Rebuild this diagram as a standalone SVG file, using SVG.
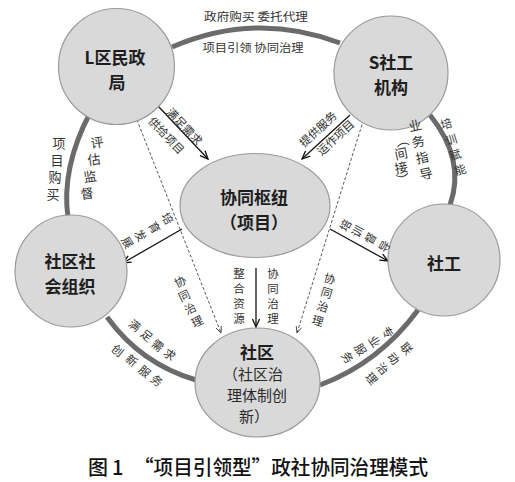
<svg xmlns="http://www.w3.org/2000/svg" width="515" height="482" viewBox="0 0 515 482">
<style>
.node{fill:#d9d9d9;stroke:#9a9a9a;stroke-width:1.2}
.ring{fill:none;stroke:#6b6b6b;stroke-width:5;stroke-linecap:butt}
.nt{font-family:"Noto Sans CJK SC","Liberation Sans",sans-serif;font-size:17px;font-weight:bold;fill:#1e1e1e;text-anchor:middle;dominant-baseline:central}
.nr{font-family:"Noto Sans CJK SC","Liberation Sans",sans-serif;font-size:15px;fill:#2a2a2a;text-anchor:middle;dominant-baseline:central}
.lb{font-family:"Noto Sans CJK SC","Liberation Sans",sans-serif;font-size:11.5px;fill:#333;text-anchor:middle;dominant-baseline:central}
.lv{font-family:"Noto Sans CJK SC","Liberation Sans",sans-serif;font-size:13px;fill:#333;text-anchor:middle;dominant-baseline:central}
.solid{fill:none;stroke:#151515;stroke-width:1.3}
.dash{fill:none;stroke:#444;stroke-width:0.9;stroke-dasharray:3 2}
.cap{font-family:"Noto Sans CJK SC","Liberation Sans",sans-serif;font-size:20px;font-weight:500;fill:#111}
</style>
<defs>
<marker id="arr" viewBox="0 0 10 10" refX="9" refY="5" markerWidth="10" markerHeight="10" orient="auto" markerUnits="userSpaceOnUse">
<path d="M1,1.5 L9,5 L1,8.5" fill="none" stroke="#111" stroke-width="1.3"/>
</marker>
<marker id="arrd" viewBox="0 0 10 10" refX="9" refY="5" markerWidth="8" markerHeight="8" orient="auto" markerUnits="userSpaceOnUse">
<path d="M1,1.5 L9,5 L1,8.5" fill="none" stroke="#333" stroke-width="1"/>
</marker>
</defs>
<rect width="515" height="482" fill="#fff"/>

<g id="ring">
<path class="ring" d="M172,47 Q256,11 340,43"/>
<path class="ring" d="M90,113 Q61,168 68,218"/>
<path class="ring" d="M430,115 Q466,160 450,205"/>
<path class="ring" d="M107,317 Q141,364 196,380"/>
<path class="ring" d="M320,385 Q379,363 418,310"/>
</g>

<g id="connectors">
<line class="solid" x1="158" y1="106" x2="208" y2="159" marker-end="url(#arr)"/>
<line class="solid" x1="350" y1="115" x2="302" y2="159" marker-end="url(#arr)"/>
<line class="solid" x1="182" y1="229" x2="123" y2="263" marker-end="url(#arr)"/>
<line class="solid" x1="330" y1="229" x2="388" y2="261" marker-end="url(#arr)"/>
<line class="solid" x1="256" y1="268" x2="256" y2="327" stroke-width="2" marker-end="url(#arr)"/>
<line class="dash" x1="135" y1="115" x2="221" y2="333" marker-end="url(#arrd)"/>
<line class="dash" x1="365" y1="115" x2="297" y2="333" marker-end="url(#arrd)"/>
</g>

<g id="node-L">
<circle class="node" cx="116.5" cy="66.5" r="58"/>
<text class="nt" x="115" y="56">L区民政</text>
<text class="nt" x="117" y="81">局</text>
</g>
<g id="node-S">
<circle class="node" cx="391" cy="73" r="57"/>
<text class="nt" x="391" y="61">S社工</text>
<text class="nt" x="391" y="86">机构</text>
</g>
<g id="node-hub">
<ellipse class="node" cx="255" cy="205.5" rx="75" ry="52"/>
<text class="nt" x="254" y="196">协同枢纽</text>
<text class="nt" x="254" y="221">（项目）</text>
</g>
<g id="node-org">
<circle class="node" cx="71" cy="271" r="56"/>
<text class="nt" x="70" y="260">社区社</text>
<text class="nt" x="70" y="285">会组织</text>
</g>
<g id="node-sw">
<circle class="node" cx="444" cy="260" r="56"/>
<text class="nt" x="444" y="262">社工</text>
</g>
<g id="node-community">
<ellipse class="node" cx="257.5" cy="382.5" rx="62.5" ry="54.5"/>
<text class="nt" x="257" y="351">社区</text>
<text class="nr" x="253" y="373">（社区治</text>
<text class="nr" x="257" y="394">理体制创</text>
<text class="nr" x="254" y="415">新）</text>
</g>

<g id="labels">
<text class="lb" x="256" y="16" textLength="104" lengthAdjust="spacingAndGlyphs">政府购买  委托代理</text>
<text class="lb" x="253" y="47" textLength="101" lengthAdjust="spacingAndGlyphs">项目引领  协同治理</text>

<text class="lb" transform="translate(185,126) rotate(46.7)">满足需求</text>
<text class="lb" transform="translate(167,135) rotate(46.7)">供给项目</text>
<text class="lb" transform="translate(317.5,128.5) rotate(-42.5)">提供服务</text>
<text class="lb" transform="translate(335,137) rotate(-42.5)">运作项目</text>

<text class="lb" transform="translate(168,218) rotate(59)">培</text>
<text class="lb" transform="translate(155,227) rotate(59)">育</text>
<text class="lb" transform="translate(141,235) rotate(59)">发</text>
<text class="lb" transform="translate(128,242) rotate(59)">展</text>

<text class="lb" transform="translate(345,225) rotate(-61)">培</text>
<text class="lb" transform="translate(357,231) rotate(-61)">训</text>
<text class="lb" transform="translate(370,238) rotate(-61)">督</text>
<text class="lb" transform="translate(384,246) rotate(-61)">导</text>

<text class="lb" transform="translate(180,281) rotate(-26.6)">协</text>
<text class="lb" transform="translate(184,295) rotate(-26.6)">同</text>
<text class="lb" transform="translate(190,308) rotate(-26.6)">治</text>
<text class="lb" transform="translate(197,321) rotate(-26.6)">理</text>

<text class="lb" transform="translate(330,278) rotate(16.5)">协</text>
<text class="lb" transform="translate(327,292) rotate(16.5)">同</text>
<text class="lb" transform="translate(323,306) rotate(16.5)">治</text>
<text class="lb" transform="translate(318,320) rotate(16.5)">理</text>

<text class="lb" x="239" y="273">整</text>
<text class="lb" x="239" y="288">合</text>
<text class="lb" x="239" y="303">资</text>
<text class="lb" x="239" y="318">源</text>
<text class="lb" x="273" y="273">协</text>
<text class="lb" x="273" y="288">同</text>
<text class="lb" x="273" y="303">治</text>
<text class="lb" x="273" y="318">理</text>

<text class="lv" x="59" y="142">项</text>
<text class="lv" x="57" y="159">目</text>
<text class="lv" x="55" y="176">购</text>
<text class="lv" x="53" y="193">买</text>
<text class="lv" transform="translate(97,142) rotate(-8)">评</text>
<text class="lv" transform="translate(94,159) rotate(-8)">估</text>
<text class="lv" transform="translate(90,176) rotate(-8)">监</text>
<text class="lv" transform="translate(87,193) rotate(-8)">督</text>

<text class="lb" transform="translate(446,123) rotate(-17)">培</text>
<text class="lb" transform="translate(451,139) rotate(-17)">训</text>
<text class="lb" transform="translate(455,154) rotate(-17)">赋</text>
<text class="lb" transform="translate(460,169) rotate(-17)">能</text>
<text class="lv" transform="translate(415,125) rotate(-12)">业</text>
<text class="lv" transform="translate(418,141) rotate(-12)">务</text>
<text class="lv" transform="translate(422,157) rotate(-12)">指</text>
<text class="lv" transform="translate(426,173) rotate(-12)">导</text>
<text class="lv" transform="translate(402,140) rotate(-12)">︵</text>
<text class="lv" transform="translate(401,153) rotate(-12)">间</text>
<text class="lv" transform="translate(401,167) rotate(-12)">接</text>
<text class="lv" transform="translate(403,179) rotate(-12)">︶</text>

<text class="lb" transform="translate(135,325) rotate(39)">满</text>
<text class="lb" transform="translate(147,335) rotate(39)">足</text>
<text class="lb" transform="translate(158,345) rotate(39)">需</text>
<text class="lb" transform="translate(170,354) rotate(39)">求</text>
<text class="lb" transform="translate(118,350) rotate(39)">创</text>
<text class="lb" transform="translate(132,360) rotate(39)">新</text>
<text class="lb" transform="translate(145,371) rotate(39)">服</text>
<text class="lb" transform="translate(157,380) rotate(39)">务</text>

<text class="lb" transform="translate(388,332) rotate(57)">专</text>
<text class="lb" transform="translate(375,341) rotate(57)">业</text>
<text class="lb" transform="translate(361,349) rotate(57)">服</text>
<text class="lb" transform="translate(348,357) rotate(57)">务</text>
<text class="lb" transform="translate(407,348) rotate(49)">联</text>
<text class="lb" transform="translate(394,358) rotate(49)">动</text>
<text class="lb" transform="translate(383,368) rotate(49)">治</text>
<text class="lb" transform="translate(372,378) rotate(49)">理</text>
</g>

<g id="caption">
<text class="cap" x="88" y="475">图</text>
<text class="cap" x="112" y="475">1</text>
<text class="cap" x="134" y="475" textLength="294" lengthAdjust="spacingAndGlyphs">“项目引领型”政社协同治理模式</text>
</g>
</svg>
